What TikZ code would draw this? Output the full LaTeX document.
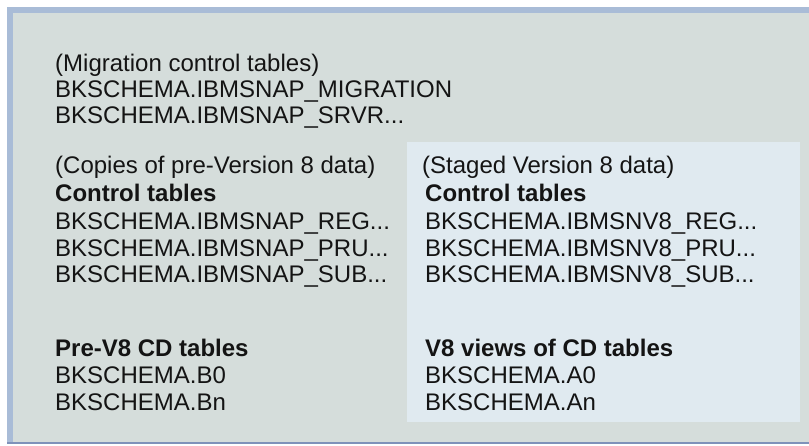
\documentclass[tikz,border=0pt]{standalone}
\usepackage{fontspec}
\setmainfont{Liberation Sans}
\usetikzlibrary{positioning}
\definecolor{outerfill}{HTML}{D5DDDB}
\definecolor{innerfill}{HTML}{E0EAF0}
\definecolor{rimlight}{HTML}{A9BCD7}
\definecolor{rimdark}{HTML}{7F92BA}
\definecolor{ink}{HTML}{141414}
\tikzset{txt/.style={anchor=base west, inner sep=0pt, text=ink, font=\fontsize{24}{28}\selectfont}}
\tikzset{hdr/.style={txt, font=\fontsize{24}{28}\selectfont\bfseries}}

\begin{document}
\begin{tikzpicture}[x=1pt,y=-1pt]
  \useasboundingbox (0,0) rectangle (809,445);
  % frame
  \fill[outerfill] (7,7) rectangle (809,444);
  \fill[rimlight] (7,7) rectangle (809,13);
  \fill[rimlight] (7,7) rectangle (13,444);
  \fill[rimdark] (7,442) rectangle (809,444);
  \fill[innerfill] (407,142) rectangle (800,422);
  % migration tables
  \node[txt]          (mig)   at (55,71)                         {(Migration control tables)};
  \node               (migr)  [below=26pt of mig.base west, txt]  {BKSCHEMA.IBMSNAP\_MIGRATION};
  \node               (srvr)  [below=26pt of migr.base west, txt] {BKSCHEMA.IBMSNAP\_SRVR...};
  % pre-version 8 copies
  \node               (copy)  [below=50pt of srvr.base west, txt] {(Copies of pre-Version 8 data)};
  \node               (ctlB)  [below=28pt of copy.base west, hdr] {Control tables};
  \node               (regB)  [below=28pt of ctlB.base west, txt] {BKSCHEMA.IBMSNAP\_REG...};
  \node               (pruB)  [below=27pt of regB.base west, txt] {BKSCHEMA.IBMSNAP\_PRU...};
  \node               (subB)  [below=26pt of pruB.base west, txt] {BKSCHEMA.IBMSNAP\_SUB...};
  \node               (cdB)   [below=74pt of subB.base west, hdr] {Pre-V8 CD tables};
  \node               (b0)    [below=27pt of cdB.base west, txt]  {BKSCHEMA.B0};
  \node               (bn)    [below=27pt of b0.base west, txt]   {BKSCHEMA.Bn};
  % staged version 8
  \node[txt]          (stage) at (422,173)                       {(Staged Version 8 data)};
  \node[hdr]          (ctlA)  at (425,201)                       {Control tables};
  \node               (regA)  [below=28pt of ctlA.base west, txt] {BKSCHEMA.IBMSNV8\_REG...};
  \node               (pruA)  [below=27pt of regA.base west, txt] {BKSCHEMA.IBMSNV8\_PRU...};
  \node               (subA)  [below=26pt of pruA.base west, txt] {BKSCHEMA.IBMSNV8\_SUB...};
  \node               (cdA)   [below=74pt of subA.base west, hdr] {V8 views of CD tables};
  \node               (a0)    [below=27pt of cdA.base west, txt]  {BKSCHEMA.A0};
  \node               (an)    [below=27pt of a0.base west, txt]   {BKSCHEMA.An};
\end{tikzpicture}
\end{document}
